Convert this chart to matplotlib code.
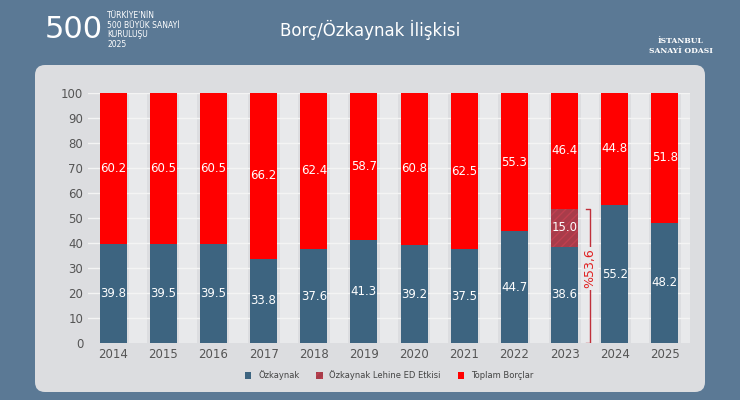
import numpy as np
import matplotlib.pyplot as plt
from matplotlib.patches import FancyBboxPatch

years = ["2014", "2015", "2016", "2017", "2018", "2019", "2020", "2021", "2022", "2023", "2024", "2025"]
ozkaynak = [39.8, 39.5, 39.5, 33.8, 37.6, 41.3, 39.2, 37.5, 44.7, 38.6, 55.2, 48.2]
ed_etkisi = [0, 0, 0, 0, 0, 0, 0, 0, 0, 15.0, 0, 0]
borclar = [60.2, 60.5, 60.5, 66.2, 62.4, 58.7, 60.8, 62.5, 55.3, 46.4, 44.8, 51.8]

BLUE = "#3d6480"
RED = "#ff0000"
BG = "#5b7995"

fig = plt.figure(figsize=(7.4, 4.0), dpi=100)
fig.patch.set_facecolor(BG)

bg = fig.add_axes([0, 0, 1, 1], zorder=-5)
bg.set_xlim(0, 740)
bg.set_ylim(0, 400)
bg.axis("off")
bg.add_patch(FancyBboxPatch((35, 8), 670, 327, boxstyle="round,pad=0,rounding_size=10",
                            facecolor="#dcdde0", edgecolor="none"))

fig.text(0.5, 0.925, "Borç/Özkaynak İlişkisi", ha="center", va="center",
         color="white", fontsize=12)
fig.text(0.06, 0.925, "500", ha="left", va="center", color="white", fontsize=22)
fig.text(0.145, 0.925, "TÜRKİYE'NİN\n500 BÜYÜK SANAYİ\nKURULUŞU\n2025",
         ha="left", va="center", color="white", fontsize=5.5, linespacing=1.1)
fig.text(0.92, 0.885, "İSTANBUL\nSANAYİ ODASI", ha="center", va="center",
         color="white", fontsize=5.5, fontweight="bold", family="DejaVu Serif")

ax = fig.add_axes([88 / 740, 57 / 400, 602 / 740, 250 / 400])
ax.set_facecolor("#dcdde0")
x = np.arange(len(years))
ax.set_xlim(-0.5, len(years) - 0.5)
ax.set_ylim(0, 100)

for xi in x:
    ax.axvspan(xi + 0.32, xi + 0.68, color="#e8e9eb", zorder=0, lw=0)
for yv in range(10, 101, 10):
    ax.axhline(yv, color="#f4f4f4", lw=1, zorder=0.5)

w = 0.54
ax.bar(x, ozkaynak, w, color=BLUE, zorder=2, label="Özkaynak")
ax.bar(x, ed_etkisi, w, bottom=ozkaynak, color="#a83c4a", hatch="////",
       edgecolor="#c04050", lw=0, zorder=2, label="Özkaynak Lehine ED Etkisi")
bottom2 = np.array(ozkaynak) + np.array(ed_etkisi)
ax.bar(x, borclar, w, bottom=bottom2, color=RED, zorder=2, label="Toplam Borçlar")

for xi in x:
    ax.text(xi, ozkaynak[xi] / 2, f"{ozkaynak[xi]:.1f}", ha="center", va="center",
            color="white", fontsize=8.5, zorder=3)
    ax.text(xi, bottom2[xi] + borclar[xi] / 2, f"{borclar[xi]:.1f}", ha="center",
            va="center", color="white", fontsize=8.5, zorder=3)
    if ed_etkisi[xi]:
        ax.text(xi, ozkaynak[xi] + ed_etkisi[xi] / 2, f"{ed_etkisi[xi]:.1f}",
                ha="center", va="center", color="white", fontsize=8.5, zorder=3)

# bracket on 2023
i = years.index("2023")
top = ozkaynak[i] + ed_etkisi[i]
bx = i + 0.5
ax.plot([bx - 0.08, bx, bx, bx - 0.08], [top, top, 0, 0], color="#c0303a", lw=1, zorder=3)
ax.text(bx, top / 2 + 3, "%53,6", rotation=90, ha="center", va="center",
        color="#e02020", fontsize=9, zorder=4,
        bbox=dict(facecolor="#e8e9eb", edgecolor="none", pad=1))

ax.set_xticks(x)
ax.set_xticklabels(years)
ax.set_yticks(range(0, 101, 10))
ax.tick_params(length=0, colors="#555555", labelsize=8.5)
for s in ax.spines.values():
    s.set_visible(False)

ax.legend(loc="upper center", bbox_to_anchor=(0.5, -0.08), ncol=3, frameon=False,
          fontsize=6, handlelength=0.8, handleheight=0.8, labelcolor="#444444")

fig.savefig("out.png", dpi=100, facecolor=BG)
